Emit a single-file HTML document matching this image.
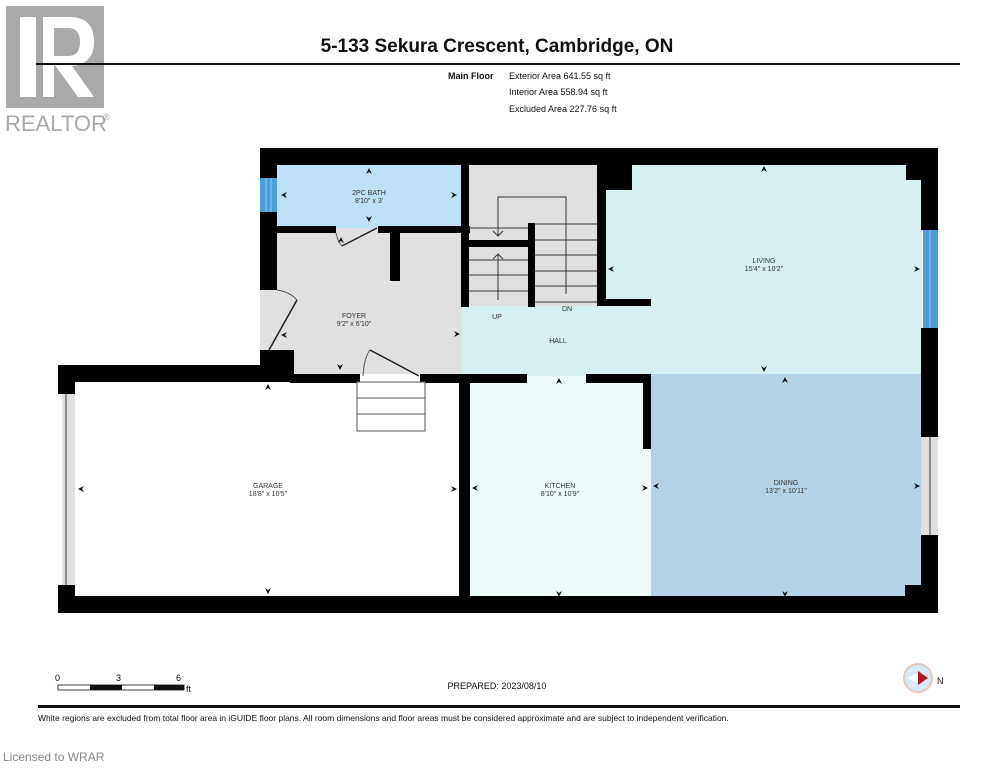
<!DOCTYPE html>
<html><head><meta charset="utf-8"><style>
html,body{margin:0;padding:0;background:#fff;}
svg{display:block;font-family:"Liberation Sans",Arial,sans-serif;}
</style></head><body>
<svg width="995" height="768" viewBox="0 0 995 768" xmlns="http://www.w3.org/2000/svg">
<!-- logo -->
<rect x="6" y="6" width="98" height="102" fill="#a9a9a9"/>
<rect x="20" y="17" width="16" height="80" fill="#fff"/>
<path d="M43 17 H70 Q94 17 94 42 Q94 64 72 66 L94 97 H78 L54 64 V97 H43 Z" fill="#fff"/>
<path d="M54 28 V56 H68 Q80 56 80 42 Q80 28 68 28 Z" fill="#a9a9a9"/>
<text x="5" y="131" font-size="22" fill="#a9a9a9">REALTOR</text>
<text x="103" y="120" font-size="9" fill="#a9a9a9">®</text>
<!-- header -->
<text x="497" y="52" font-size="19" font-weight="bold" text-anchor="middle" fill="#111">5-133 Sekura Crescent, Cambridge, ON</text>
<rect x="36" y="63" width="924" height="2" fill="#111"/>
<text x="448" y="79" font-size="9" font-weight="bold" fill="#111">Main Floor</text>
<text x="509" y="79" font-size="9" fill="#111">Exterior Area 641.55 sq ft</text>
<text x="509" y="95" font-size="9" fill="#111">Interior Area 558.94 sq ft</text>
<text x="509" y="112" font-size="9" fill="#111">Excluded Area 227.76 sq ft</text>

<!-- room fills -->
<rect x="277" y="164" width="185" height="64" fill="#bde2f7"/>
<rect x="277" y="228" width="185" height="146" fill="#e0e0e0"/>
<rect x="462" y="164" width="140" height="142" fill="#e0e0e0"/>
<rect x="462" y="306" width="190" height="70" fill="#d6f0f2"/>
<rect x="602" y="164" width="320" height="212" fill="#d6f0f2"/>
<rect x="468" y="376" width="184" height="220" fill="#eefcfb"/>
<rect x="651" y="374" width="271" height="222" fill="#b5d3e7"/>
<rect x="260" y="290" width="17" height="60" fill="#e0e0e0"/>

<!-- walls -->
<g fill="#000">
<rect x="260" y="148" width="678" height="17"/>
<rect x="260" y="148" width="17" height="30"/>
<rect x="260" y="212" width="17" height="78"/>
<rect x="260" y="350" width="17" height="16"/>
<rect x="260" y="350" width="34" height="26"/>
<rect x="921" y="148" width="17" height="82"/>
<rect x="906" y="164" width="15" height="16"/>
<rect x="921" y="328" width="17" height="109"/>
<rect x="921" y="535" width="17" height="78"/>
<rect x="905" y="585" width="17" height="12"/>
<rect x="58" y="596" width="880" height="17"/>
<rect x="58" y="365" width="17" height="29"/>
<rect x="58" y="585" width="17" height="28"/>
<rect x="58" y="365" width="232" height="17"/>
<rect x="290" y="374" width="70" height="9"/>
<rect x="420" y="374" width="107" height="9"/>
<rect x="586" y="374" width="65" height="9"/>
<rect x="643" y="374" width="8" height="75"/>
<rect x="459" y="374" width="11" height="222"/>
<rect x="277" y="226" width="59" height="7"/>
<rect x="378" y="226" width="92" height="7"/>
<rect x="390" y="226" width="10" height="55"/>
<rect x="461" y="160" width="8" height="147"/>
<rect x="469" y="240" width="59" height="7"/>
<rect x="528" y="223" width="7" height="84"/>
<rect x="597" y="164" width="9" height="142"/>
<rect x="597" y="164" width="35" height="26"/>
<rect x="597" y="299" width="54" height="7"/>
</g>
<!-- windows -->
<rect x="260" y="178" width="17" height="34" fill="#4a9fd8"/>
<line x1="266" y1="178" x2="266" y2="212" stroke="#8cc6ee"/><line x1="271" y1="178" x2="271" y2="212" stroke="#8cc6ee"/>
<rect x="923" y="230" width="15" height="98" fill="#4a9fd8"/>
<line x1="930" y1="230" x2="930" y2="328" stroke="#8cc6ee"/>
<rect x="921" y="437" width="17" height="98" fill="#e0e0e0"/>
<line x1="930" y1="437" x2="930" y2="535" stroke="#333"/>
<rect x="62" y="394" width="13" height="191" fill="#e0e0e0"/>
<line x1="66" y1="394" x2="66" y2="585" stroke="#333"/>
<!-- stairs -->
<g stroke="#333" stroke-width="1" fill="none">
<line x1="469" y1="228" x2="528" y2="228"/>
<line x1="469" y1="260" x2="528" y2="260"/><line x1="469" y1="275" x2="528" y2="275"/><line x1="469" y1="291" x2="528" y2="291"/>
<line x1="535" y1="224" x2="597" y2="224"/><line x1="535" y1="240" x2="597" y2="240"/><line x1="535" y1="255" x2="597" y2="255"/><line x1="535" y1="271" x2="597" y2="271"/><line x1="535" y1="286" x2="597" y2="286"/><line x1="535" y1="302" x2="597" y2="302"/>
<polyline points="566,294 566,197 498,197 498,235"/>
<polyline points="493,231 498,236 503,231"/>
<line x1="498" y1="300" x2="498" y2="254"/><polyline points="493,259 498,254 503,259"/>
<rect x="357" y="382" width="68" height="49" stroke="#555" fill="#fff"/>
<line x1="357" y1="398" x2="425" y2="398" stroke="#555"/><line x1="357" y1="414" x2="425" y2="414" stroke="#555"/>
<line x1="342" y1="246" x2="377" y2="228" stroke="#222" stroke-width="1.5"/>
<path d="M336 233 Q338 242 342 246" stroke="#555"/>
<line x1="370" y1="350" x2="419" y2="376" stroke="#222" stroke-width="1.5"/>
<path d="M363 376 Q364 358 370 350" stroke="#555"/>
<line x1="297" y1="300" x2="269" y2="350" stroke="#222" stroke-width="1.5"/>
<path d="M277 290 Q290 292 297 300" stroke="#555"/>
</g>
<!-- labels -->
<g font-size="7" fill="#333" text-anchor="middle">
<text x="369" y="195">2PC BATH</text><text x="369" y="203">8'10" x 3'</text>
<text x="354" y="318">FOYER</text><text x="354" y="326">9'2" x 6'10"</text>
<text x="497" y="319">UP</text><text x="567" y="311">DN</text>
<text x="558" y="343">HALL</text>
<text x="764" y="263">LIVING</text><text x="764" y="271">15'4" x 10'2"</text>
<text x="268" y="488">GARAGE</text><text x="268" y="496">18'8" x 10'5"</text>
<text x="560" y="488">KITCHEN</text><text x="560" y="496">8'10" x 10'9"</text>
<text x="786" y="485">DINING</text><text x="786" y="493">13'2" x 10'11"</text>
</g>
<!-- dimension arrows -->
<g fill="#111">
<path d="M369 168 l-3 6 l3 -2 l3 2z"/><path d="M369 222 l-3 -6 l3 2 l3 -2z"/>
<path d="M281 195 l6 -3 l-2 3 l2 3z"/><path d="M457 195 l-6 -3 l2 3 l-2 3z"/>
<path d="M281 335 l6 -3 l-2 3 l2 3z"/><path d="M460 334 l-6 -3 l2 3 l-2 3z"/>
<path d="M341 237 l-3 6 l3 -2 l3 2z"/><path d="M340 370 l-3 -6 l3 2 l3 -2z"/>
<path d="M268 384 l-3 6 l3 -2 l3 2z"/><path d="M268 594 l-3 -6 l3 2 l3 -2z"/>
<path d="M78 489 l6 -3 l-2 3 l2 3z"/><path d="M457 489 l-6 -3 l2 3 l-2 3z"/>
<path d="M559 378 l-3 6 l3 -2 l3 2z"/><path d="M559 597 l-3 -6 l3 2 l3 -2z"/>
<path d="M472 488 l6 -3 l-2 3 l2 3z"/><path d="M648 488 l-6 -3 l2 3 l-2 3z"/>
<path d="M653 486 l6 -3 l-2 3 l2 3z"/><path d="M920 486 l-6 -3 l2 3 l-2 3z"/>
<path d="M785 377 l-3 6 l3 -2 l3 2z"/><path d="M785 597 l-3 -6 l3 2 l3 -2z"/>
<path d="M764 166 l-3 6 l3 -2 l3 2z"/><path d="M764 372 l-3 -6 l3 2 l3 -2z"/>
<path d="M608 269 l6 -3 l-2 3 l2 3z"/><path d="M920 269 l-6 -3 l2 3 l-2 3z"/>
</g>
<!-- footer -->
<g font-size="9" fill="#111">
<text x="55" y="681">0</text><text x="116" y="681">3</text><text x="176" y="681">6</text>
<text x="186" y="692">ft</text>
<text x="497" y="689" text-anchor="middle">PREPARED: 2023/08/10</text>
</g>
<rect x="58" y="685" width="126" height="5" fill="#fff" stroke="#111" stroke-width="0.8"/>
<rect x="90" y="685" width="32" height="5" fill="#111"/><rect x="154" y="685" width="30" height="5" fill="#111"/>
<circle cx="918" cy="678" r="14" fill="#d6ebf7" stroke="#e8c9b8" stroke-width="2"/>
<path d="M907 678 L920 672 L920 684 Z" fill="#fff"/>
<path d="M918 671 L928 678 L918 685 Z" fill="#b01820"/>
<text x="937" y="684" font-size="9" fill="#111">N</text>
<rect x="38" y="705" width="922" height="3" fill="#111"/>
<text x="38" y="721" font-size="8.5" fill="#111">White regions are excluded from total floor area in iGUIDE floor plans. All room dimensions and floor areas must be considered approximate and are subject to independent verification.</text>
<text x="3" y="761" font-size="12" fill="#888">Licensed to WRAR</text>
</svg>
</body></html>
